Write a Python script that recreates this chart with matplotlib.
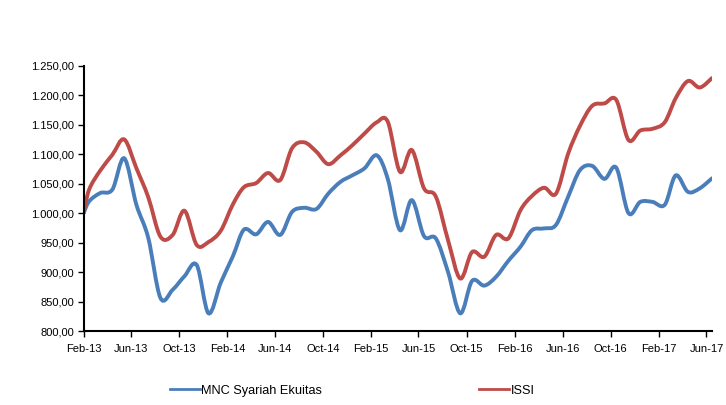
import datetime as dt
import matplotlib
matplotlib.use("Agg")
import matplotlib.pyplot as plt
import matplotlib.dates as mdates
from matplotlib.path import Path
from matplotlib.patches import PathPatch
from matplotlib.lines import Line2D
from matplotlib.ticker import FuncFormatter

plt.rcParams['font.family'] = ['Liberation Sans', 'DejaVu Sans']

# start value at launch, then mid-month readings Feb-13 .. Jun-17
start_date = dt.date(2013, 2, 1)
months = [(2013 + (1 + i) // 12, (1 + i) % 12 + 1) for i in range(53)]
dates = [start_date] + [dt.date(y, m, 15) for y, m in months]

mnc = [1000, 1020, 1034, 1040, 1093, 1014, 958, 856, 870, 893, 912, 830,
       882, 927, 972, 964, 985, 963, 1002, 1009, 1007, 1033, 1053, 1064,
       1076, 1098, 1058, 971, 1022, 961, 957, 900, 830, 885, 877, 892, 919,
       943, 971, 974, 980, 1028, 1073, 1080, 1058, 1077, 1000, 1019, 1019,
       1014, 1064, 1036, 1042, 1059]
issi = [1000, 1040, 1072, 1099, 1125, 1076, 1027, 960, 963, 1004, 946, 951,
        970, 1015, 1044, 1051, 1068, 1056, 1110, 1120, 1104, 1083, 1098, 1115,
        1135, 1154, 1155, 1070, 1107, 1042, 1028, 954, 889, 934, 926, 963, 957,
        1005, 1029, 1043, 1033, 1101, 1148, 1182, 1186, 1192, 1124, 1140, 1143,
        1154, 1195, 1224, 1213, 1229]

series = [("MNC Syariah Ekuitas", mnc, "#4A7EBB"), ("ISSI", issi, "#BE4B48")]


def smooth_path(xs, ys):
    # excel-style smoothed line: cubic bezier through every point
    pts = list(zip(xs, ys))
    n = len(pts)
    verts = [pts[0]]
    codes = [Path.MOVETO]
    for i in range(n - 1):
        p0 = pts[i - 1] if i > 0 else pts[i]
        p1 = pts[i]
        p2 = pts[i + 1]
        p3 = pts[i + 2] if i + 2 < n else pts[i + 1]
        c1 = (p1[0] + (p2[0] - p0[0]) / 6, p1[1] + (p2[1] - p0[1]) / 6)
        c2 = (p2[0] - (p3[0] - p1[0]) / 6, p2[1] - (p3[1] - p1[1]) / 6)
        verts += [c1, c2, p2]
        codes += [Path.CURVE4] * 3
    return Path(verts, codes)


fig = plt.figure(figsize=(7.26, 4.05), dpi=100)
ax = fig.add_axes([0.1152, 0.1827, 0.8655, 0.6551])

x = mdates.date2num(dates)
handles = []
for name, vals, col in series:
    patch = PathPatch(smooth_path(x, vals), facecolor='none', edgecolor=col,
                      lw=2.8, capstyle='round', joinstyle='round')
    ax.add_patch(patch)
    handles.append(Line2D([], [], color=col, lw=2.0, label=name))

ax.set_xlim(x[0], x[-1])
ax.set_ylim(800, 1250)
ax.set_yticks(range(800, 1251, 50))
ax.yaxis.set_major_formatter(FuncFormatter(
    lambda v, p: f"{v:,.2f}".replace(',', 'X').replace('.', ',').replace('X', '.')))
ax.xaxis.set_major_locator(mdates.MonthLocator(bymonth=[2, 6, 10]))
ax.xaxis.set_major_formatter(mdates.DateFormatter('%b-%y'))

for s in ['top', 'right']:
    ax.spines[s].set_visible(False)
for s in ['left', 'bottom']:
    ax.spines[s].set_linewidth(1.5)
ax.tick_params(axis='both', direction='out', length=4, width=1, labelsize=8, pad=3)
ax.tick_params(axis='x', pad=5)

fig.legend(handles=handles, loc='center', bbox_to_anchor=(0.4855, 0.035), ncol=2,
           frameon=False, fontsize=9.2, handlelength=2.3, handletextpad=0.15,
           columnspacing=12.3)

fig.savefig("out.png", dpi=100)
